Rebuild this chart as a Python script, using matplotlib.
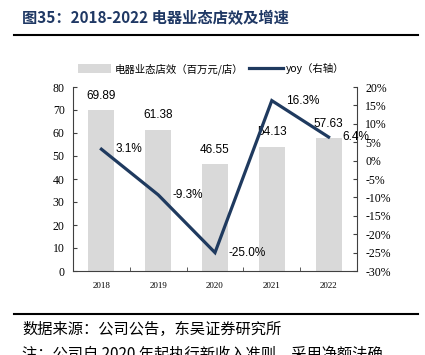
import matplotlib
matplotlib.use("Agg")
import matplotlib.pyplot as plt
from matplotlib.patches import Patch
from matplotlib.lines import Line2D

years = ["2018", "2019", "2020", "2021", "2022"]
store_eff = [69.89, 61.38, 46.55, 54.13, 57.63]
yoy = [3.1, -9.3, -25.0, 16.3, 6.4]
yoy_labels = ["3.1%", "-9.3%", "-25.0%", "16.3%", "6.4%"]
left_ticks = [0, 10, 20, 30, 40, 50, 60, 70, 80]
right_ticks = [-30, -25, -20, -15, -10, -5, 0, 5, 10, 15, 20]

W, H = 425, 355
fig = plt.figure(figsize=(W / 100, H / 100), dpi=100)
fig.patch.set_facecolor("white")

CJK = ["Noto Sans CJK SC", "DejaVu Sans"]
SERIF = ["Liberation Serif", "DejaVu Serif"]
SANS = ["Liberation Sans", "DejaVu Sans"]
BAR_C = "#D9D9D9"
LINE_C = "#1F3A5F"
TITLE_C = "#1F3864"

# Title and rules
fig.text(22 / W, 1 - 18 / H, "图35：2018-2022 电器业态店效及增速", family=CJK,
         fontsize=11, fontweight="bold", color=TITLE_C, va="center", ha="left")
fig.add_artist(Line2D([14 / W, 418 / W], [1 - 35 / H, 1 - 35 / H], color="black", lw=1.5))
fig.add_artist(Line2D([14 / W, 418 / W], [1 - 314 / H, 1 - 314 / H], color="black", lw=1.5))
fig.text(22 / W, 1 - 329 / H, "数据来源：公司公告，东吴证券研究所", family=CJK,
         fontsize=11, color="black", va="center", ha="left")
fig.text(22 / W, 1 - 354 / H, "注：公司自 2020 年起执行新收入准则，采用净额法确", family=CJK,
         fontsize=11, color="black", va="center", ha="left")

ax = fig.add_axes([73 / W, 1 - 271 / H, 284 / W, 184 / H])
x = list(range(len(years)))
bars = ax.bar(x, store_eff, width=0.46, color=BAR_C, zorder=1)
ax.set_xlim(-0.5, len(years) - 0.5)
ax.set_ylim(0, 80)
ax.set_yticks(left_ticks)
ax.set_yticklabels([str(t) for t in left_ticks], family=SERIF, fontsize=8.5)
ax.set_xticks(x)
ax.set_xticklabels(years, family=SERIF, fontsize=6.5)
ax.set_xticks([i + 0.5 for i in x[:-1]], minor=True)
ax.tick_params(axis="x", which="major", length=0, pad=8)
ax.tick_params(axis="x", which="minor", length=3, direction="in", color="#404040")
ax.tick_params(axis="y", length=3, direction="in", color="#404040", pad=6)
for s in ["top", "right"]:
    ax.spines[s].set_visible(False)
ax.spines["left"].set_color("#404040")
ax.spines["bottom"].set_color("#404040")
ax.spines["left"].set_linewidth(0.8)
ax.spines["bottom"].set_linewidth(0.8)

for xi, v in zip(x, store_eff):
    ax.annotate(f"{v:.2f}", (xi, v), xytext=(0, 6), textcoords="offset points",
                ha="center", va="bottom", family=SANS, fontsize=8.5, color="black")

ax2 = ax.twinx()
ax2.plot(x, yoy, color=LINE_C, lw=2.3, zorder=3, solid_joinstyle="miter")
ax2.set_ylim(-30, 20)
ax2.set_yticks(right_ticks)
ax2.set_yticklabels([f"{t}%" for t in right_ticks], family=SERIF, fontsize=8.5)
ax2.tick_params(axis="y", length=3, direction="in", color="#404040", pad=6)
for s in ["top", "left", "bottom"]:
    ax2.spines[s].set_visible(False)
ax2.spines["right"].set_color("#404040")
ax2.spines["right"].set_linewidth(0.8)

for xi, v, lab in zip(x, yoy, yoy_labels):
    ax2.annotate(lab, (xi, v), xytext=(10, 0), textcoords="offset points",
                 ha="left", va="center", family=SANS, fontsize=8.5, color="black")

handles = [Patch(facecolor=BAR_C, edgecolor="none"),
           Line2D([0], [0], color=LINE_C, lw=2.3)]
labels = ["电器业态店效（百万元/店）", "yoy（右轴）"]
fig.legend(handles, labels, loc="center", bbox_to_anchor=(211 / W, 1 - 69 / H), ncol=2,
           frameon=False, prop={"family": CJK, "size": 7.5}, handlelength=3.2,
           handleheight=0.9, columnspacing=0.6, handletextpad=0.3)

fig.savefig("out.png", dpi=100)
